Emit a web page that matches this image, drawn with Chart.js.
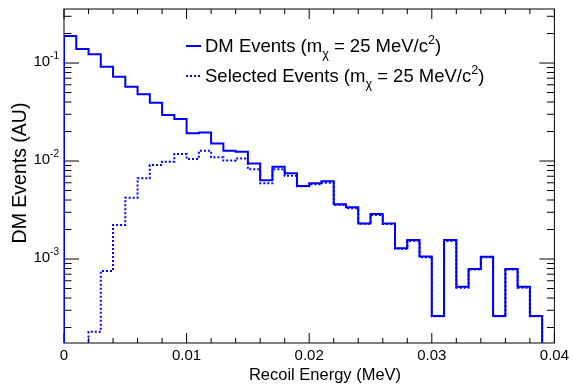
<!DOCTYPE html>
<html>
<head>
<meta charset="utf-8">
<script src="https://cdn.jsdelivr.net/npm/chart.js@4.4.0/dist/chart.umd.min.js"></script>
<style>
  body { margin: 0; background: #fff; }
  #wrap { width: 573px; height: 385px; }
</style>
</head>
<body>
<div id="wrap"><canvas id="c" width="573" height="385"></canvas></div>
<script>
// 40 bins, 0 .. 0.04 MeV
const binStart = 0;
const binWidth = 0.001;

// bin contents (0 = empty bin)
const dmEvents = [
  0.189, 0.139, 0.123, 0.0917, 0.0725, 0.0573, 0.0479, 0.0394, 0.0295, 0.0268,
  0.0192, 0.0195, 0.0151, 0.0127, 0.01245, 0.00946, 0.00635, 0.00875, 0.00749, 0.00556,
  0.00592, 0.0062, 0.00362, 0.00337, 0.00231, 0.00288, 0.00231, 0.00129, 0.00156, 0.00106,
  0.000262, 0.00156, 0.000521, 0.000791, 0.001057, 0.000262, 0.000791, 0.000521, 0.000262, 0
];
const selectedEvents = [
  0, 0, 0.000181, 0.000755, 0.00222, 0.00423, 0.00666, 0.0091, 0.00984, 0.0118,
  0.0105, 0.0127, 0.0109, 0.0101, 0.0106, 0.00822, 0.00592, 0.00822, 0.00708, 0.00552,
  0.00578, 0.00601, 0.00356, 0.00329, 0.00229, 0.00281, 0.00228, 0.00127, 0.00153, 0.00104,
  0.00026, 0.00153, 0.00051, 0.00078, 0.00104, 0.00026, 0.00078, 0.00051, 0.00026, 0
];

const xTickLabels = ['0', '0.01', '0.02', '0.03', '0.04'];
const yDecades = [-3, -2, -1];   // labelled as 10^n
const xRange = [0, 0.04];
const yRange = [1.39e-4, 0.356];

// legend entries, [text, 'sub'|'sup'|''] pieces
const legendDM = [['DM Events (m', ''], ['\u03c7', 'sub'], [' = 25 MeV/c', ''], ['2', 'sup'], [')', '']];
const legendSel = [['Selected Events (m', ''], ['\u03c7', 'sub'], [' = 25 MeV/c', ''], ['2', 'sup'], [')', '']];

const FONT = '"Liberation Sans", Arial, sans-serif';
const BLUE = '#0000ff';

// histogram outline: a point on both edges of every bin
function histOutline(values) {
  const floor = yRange[0] / 10; // empty bins drop below the frame
  const pts = [{x: binStart, y: floor}];
  values.forEach((v, i) => {
    const lo = binStart + i * binWidth;
    const y = v > 0 ? v : floor;
    pts.push({x: lo, y: y});
    pts.push({x: lo + binWidth, y: y});
  });
  pts.push({x: binStart + values.length * binWidth, y: floor});
  return pts;
}

function drawRich(ctx, parts, x, y, size) {
  ctx.textBaseline = 'alphabetic';
  ctx.textAlign = 'left';
  parts.forEach(([t, k]) => {
    const s = k ? size * 0.68 : size;
    ctx.font = s + 'px ' + FONT;
    const dy = k === 'sub' ? size * 0.32 : (k === 'sup' ? -size * 0.42 : 0);
    ctx.fillText(t, x, y + dy);
    x += ctx.measureText(t).width;
  });
}

const rootStyle = {
  id: 'rootStyle',
  beforeDatasetsDraw(chart) {
    const {ctx, chartArea: a, scales: {x, y}} = chart;
    ctx.save();
    ctx.strokeStyle = '#000';
    ctx.lineWidth = 1;
    ctx.strokeRect(a.left, a.top, a.right - a.left, a.bottom - a.top);
    ctx.beginPath();
    // x ticks, bottom and top, pointing in
    for (let i = 0; i <= 20; i++) {
      const px = x.getPixelForValue(xRange[0] + i * 0.002);
      const len = i % 5 === 0 ? 10 : 5;
      ctx.moveTo(px, a.bottom); ctx.lineTo(px, a.bottom - len);
      ctx.moveTo(px, a.top); ctx.lineTo(px, a.top + len);
    }
    // y ticks, left and right
    for (let d = -4; d <= 0; d++) {
      for (let m = 1; m <= 9; m++) {
        const v = m * Math.pow(10, d);
        if (v < yRange[0] || v > yRange[1]) continue;
        const py = y.getPixelForValue(v);
        const len = m === 1 ? 15 : 7.5;
        ctx.moveTo(a.left, py); ctx.lineTo(a.left + len, py);
        ctx.moveTo(a.right, py); ctx.lineTo(a.right - len, py);
      }
    }
    ctx.stroke();
    ctx.restore();
  },
  afterDraw(chart) {
    const {ctx, chartArea: a, scales: {x, y}} = chart;
    ctx.save();
    ctx.fillStyle = '#000';
    // y labels 10^n
    yDecades.forEach(n => {
      const py = y.getPixelForValue(Math.pow(10, n));
      ctx.font = '10px ' + FONT;
      const ew = ctx.measureText(String(n)).width;
      ctx.font = '15px ' + FONT;
      const bw = ctx.measureText('10').width;
      const right = a.left - 5;
      ctx.textAlign = 'left';
      ctx.textBaseline = 'alphabetic';
      ctx.fillText('10', right - ew - bw, py + 3);
      ctx.font = '10px ' + FONT;
      ctx.fillText(String(n), right - ew, py - 4);
    });
    // axis titles
    ctx.textAlign = 'center';
    ctx.textBaseline = 'middle';
    ctx.font = '16.5px ' + FONT;
    ctx.fillText('Recoil Energy (MeV)', 325, 375);
    ctx.save();
    ctx.translate(21, 173);
    ctx.rotate(-Math.PI / 2);
    ctx.font = '19.5px ' + FONT;
    ctx.fillText('DM Events (AU)', 0, 0);
    ctx.restore();
    // legend
    ctx.strokeStyle = BLUE;
    ctx.lineWidth = 2;
    ctx.beginPath();
    ctx.moveTo(186, 46); ctx.lineTo(201, 46);
    ctx.stroke();
    ctx.setLineDash([2, 2]);
    ctx.beginPath();
    ctx.moveTo(186, 76); ctx.lineTo(201, 76);
    ctx.stroke();
    ctx.setLineDash([]);
    drawRich(ctx, legendDM, 205, 52, 18.5);
    drawRich(ctx, legendSel, 205, 82, 18.5);
    ctx.restore();
  }
};

new Chart(document.getElementById('c'), {
  type: 'line',
  data: {
    datasets: [
      {
        label: 'DM Events',
        data: histOutline(dmEvents),
        borderColor: BLUE,
        borderWidth: 2,
        pointRadius: 0,
        fill: false
      },
      {
        label: 'Selected Events',
        data: histOutline(selectedEvents),
        borderColor: BLUE,
        borderWidth: 2,
        borderDash: [2, 2],
        pointRadius: 0,
        fill: false
      }
    ]
  },
  options: {
    responsive: false,
    animation: false,
    layout: { padding: { top: 9, right: 17, left: 0, bottom: 0 } },
    plugins: { legend: { display: false }, tooltip: { enabled: false } },
    scales: {
      x: {
        type: 'linear',
        min: xRange[0],
        max: xRange[1],
        grid: { display: false, drawTicks: false },
        border: { display: false },
        afterBuildTicks: s => { s.ticks = xTickLabels.map(t => ({ value: parseFloat(t) })); },
        afterFit: s => { s.height = 42; },
        ticks: {
          callback: (v, i) => xTickLabels[i],
          color: '#000',
          padding: 4,
          maxRotation: 0,
          font: { family: FONT, size: 15 }
        }
      },
      y: {
        type: 'logarithmic',
        min: yRange[0],
        max: yRange[1],
        grid: { display: false, drawTicks: false },
        border: { display: false },
        ticks: { display: false },
        afterFit: s => { s.width = 64; }
      }
    }
  },
  plugins: [rootStyle]
});
</script>
</body>
</html>
